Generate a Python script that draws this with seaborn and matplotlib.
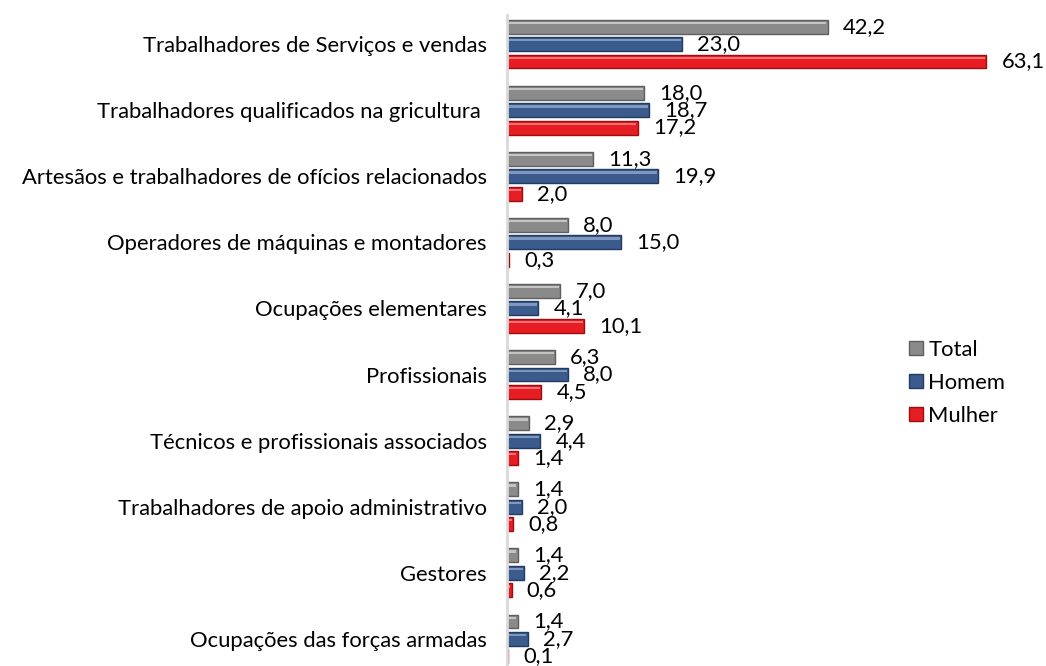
import matplotlib
matplotlib.use("Agg")
import matplotlib.pyplot as plt
import matplotlib.patches as mpatches
import seaborn as sns
import pandas as pd

# data
categorias = [
    "Trabalhadores de Serviços e vendas",
    "Trabalhadores qualificados na gricultura ",
    "Artesãos e trabalhadores de ofícios relacionados",
    "Operadores de máquinas e montadores",
    "Ocupações elementares",
    "Profissionais",
    "Técnicos e profissionais associados",
    "Trabalhadores de apoio administrativo",
    "Gestores",
    "Ocupações das forças armadas",
]
total = [42.2, 18.0, 11.3, 8.0, 7.0, 6.3, 2.9, 1.4, 1.4, 1.4]
homem = [23.0, 18.7, 19.9, 15.0, 4.1, 8.0, 4.4, 2.0, 2.2, 2.7]
mulher = [63.1, 17.2, 2.0, 0.3, 10.1, 4.5, 1.4, 0.8, 0.6, 0.1]
series = ["Total", "Homem", "Mulher"]

cores = {"Total": "#8a8a8a", "Homem": "#3b5b8c", "Mulher": "#e61e24"}
bordas = {"Total": "#5e5e5e", "Homem": "#223b63", "Mulher": "#9e0c10"}
brilho = {"Total": "#c4c4c4", "Homem": "#7d97bf", "Mulher": "#ff7075"}

df = pd.DataFrame({
    "categoria": categorias * 3,
    "serie": [s for s in series for _ in categorias],
    "valor": total + homem + mulher,
})

sns.set_style("white")
plt.rcParams["font.family"] = ["Lato", "DejaVu Sans"]
fs = 15.8

fig = plt.figure(figsize=(10.46, 6.66), dpi=100)
ax = fig.add_axes([0.4847, 0.0, 0.5083, 0.9775])

sns.barplot(data=df, y="categoria", x="valor", hue="serie", hue_order=series,
            palette=cores, orient="h", width=0.79, dodge=True,
            legend=False, ax=ax, saturation=1)

# shrink bars to leave gaps between them and add a bevel look
bar_h = 0.21
for cont, s in zip(ax.containers, series):
    for p, v in zip(cont.patches, df.loc[df.serie == s, "valor"]):
        yc = p.get_y() + p.get_height() / 2
        p.set_y(yc - bar_h / 2)
        p.set_height(bar_h)
        p.set_edgecolor(bordas[s])
        p.set_linewidth(1.0)
        # highlight strip on top
        ax.add_patch(mpatches.Rectangle((0.15, yc - bar_h / 2 + 0.03),
                                        max(p.get_width() - 0.3, 0), 0.035,
                                        color=brilho[s], lw=0, zorder=p.get_zorder() + 0.1))
        ax.annotate(f"{v:.1f}".replace(".", ","), xy=(p.get_width(), yc),
                    xytext=(11, 0), textcoords="offset points",
                    va="center", ha="left", fontsize=fs, color="black",
                    annotation_clip=False)

ax.set_xlim(0, 70)
ax.set_ylim(9.41, -0.44)
ax.set_xlabel("")
ax.set_ylabel("")
ax.set_xticks([])
ax.tick_params(axis="y", length=0, pad=14.5, labelsize=fs, labelcolor="black")
for side in ["top", "right", "bottom"]:
    ax.spines[side].set_visible(False)
ax.spines["left"].set_color("#d9d9d9")
ax.spines["left"].set_linewidth(2)

handles = [mpatches.Patch(facecolor=cores[s], edgecolor=bordas[s], label=s) for s in series]
leg = fig.legend(handles=handles, loc="center left", bbox_to_anchor=(0.859, 0.425),
                 frameon=False, fontsize=fs, handlelength=0.6, handleheight=0.6,
                 handletextpad=0.25, labelspacing=0.6, borderpad=0)
for t in leg.get_texts():
    t.set_color("black")

fig.savefig("out.png", dpi=100)
